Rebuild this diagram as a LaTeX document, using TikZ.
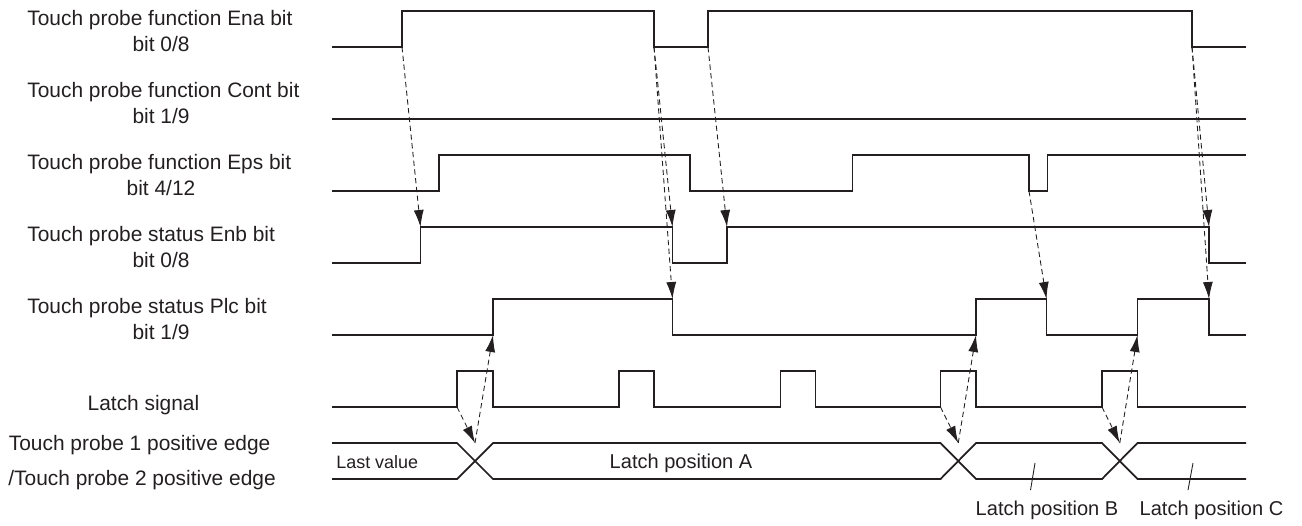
\documentclass[tikz,border=0pt]{standalone}
\usepackage{fontspec}
\setmainfont{Liberation Sans}
\usepackage{xcolor}
\usepackage{tikz}
\usetikzlibrary{arrows.meta,calc}
\definecolor{ink}{HTML}{231F20}

\begin{document}
\begin{tikzpicture}[
  font=\fontsize{11.9}{14}\selectfont,
  wave/.style={draw=ink,line width=1pt,line join=miter},
  cause/.style={-{Latex[length=3.4mm,width=2mm]},draw=ink,line width=0.5pt,
    dash pattern=on 3pt off 2pt},
  signame/.style={anchor=base west,text=ink,inner sep=0pt},
  sigbit/.style={anchor=base,text=ink,inner sep=0pt},
  buslabel/.style={anchor=base,text=ink,inner sep=0pt,
    font=\fontsize{11.4}{13}\selectfont},
  leader/.style={draw=ink,line width=0.5pt}
]
  \useasboundingbox (0,0) rectangle (26.04,-10.5);

  % signal names, one row every 1.44cm
  \node[signame] (enaName) at (0.54,-0.50) {Touch probe function Ena bit};
  \node[sigbit] (enaBit) at (3.22,-1.03) {bit 0/8};
  \node[signame] (contName) at (0.54,-1.94) {Touch probe function Cont bit};
  \node[sigbit] (contBit) at (3.22,-2.47) {bit 1/9};
  \node[signame] (epsName) at (0.54,-3.38) {Touch probe function Eps bit};
  \node[sigbit] (epsBit) at (3.22,-3.91) {bit 4/12};
  \node[signame] (enbName) at (0.54,-4.82) {Touch probe status Enb bit};
  \node[sigbit] (enbBit) at (3.22,-5.35) {bit 0/8};
  \node[signame] (plcName) at (0.54,-6.26) {Touch probe status Plc bit};
  \node[sigbit] (plcBit) at (3.22,-6.79) {bit 1/9};
  \node[sigbit] (latchName) at (2.87,-8.21) {Latch signal};
  \node[signame] (tpOne) at (0.17,-9.01) {Touch probe 1 positive edge};
  \node[signame] (tpTwo) at (0.16,-9.70) {/Touch probe 2 positive edge};

  % waveforms
  \draw[wave] (6.64,-0.94) -| (8.04,-0.22) -| (13.08,-0.94) -| (14.16,-0.22)
    -| (23.84,-0.94) -- (24.92,-0.94);
  \draw[wave] (6.64,-2.38) -- (24.92,-2.38);
  \draw[wave] (6.64,-3.82) -| (8.78,-3.10) -| (13.80,-3.82) -| (17.05,-3.10)
    -| (20.58,-3.82) -| (20.95,-3.10) -- (24.92,-3.10);
  \draw[wave] (6.64,-5.26) -| (8.41,-4.54) -| (13.45,-5.26) -| (14.54,-4.54)
    -| (24.18,-5.26) -- (24.92,-5.26);
  \draw[wave] (6.64,-6.70) -| (9.86,-5.98) -| (13.45,-6.70) -| (19.52,-5.98)
    -| (20.93,-6.70) -| (22.75,-5.98) -| (24.18,-6.70) -- (24.92,-6.70);
  \draw[wave] (6.64,-8.14) -| (9.14,-7.42) -| (9.86,-8.14) -| (12.38,-7.42)
    -| (13.08,-8.14) -| (15.61,-7.42) -| (16.31,-8.14) -| (18.81,-7.42)
    -| (19.52,-8.14) -| (22.04,-7.42) -| (22.75,-8.14) -- (24.92,-8.14);

  % latched position bus
  \draw[wave] (6.64,-8.86) -- (9.14,-8.86) -- (9.86,-9.58) -- (18.81,-9.58)
    -- (19.52,-8.86) -- (22.04,-8.86) -- (22.75,-9.58) -- (24.92,-9.58);
  \draw[wave] (6.64,-9.58) -- (9.14,-9.58) -- (9.86,-8.86) -- (18.81,-8.86)
    -- (19.52,-9.58) -- (22.04,-9.58) -- (22.75,-8.86) -- (24.92,-8.86);
  \node[buslabel,anchor=base west,font=\fontsize{10.2}{12}\selectfont] (lastVal)
    at (6.72,-9.36) {Last value};
  \node[buslabel] (posA) at (13.62,-9.36) {Latch position A};
  \node[buslabel] (posB) at (20.94,-10.30) {Latch position B};
  \node[buslabel] (posC) at (24.23,-10.30) {Latch position C};
  \coordinate (legB) at (20.70,-9.26);
  \coordinate (legC) at (23.86,-9.26);
  \draw[leader] (legB) -- ($(posB.north)+(-0.33,0.2)$);
  \draw[leader] (legC) -- ($(posC.north)+(-0.47,0.2)$);

  % edges that cause other edges
  \coordinate (enaUp1) at (8.04,-0.94);
  \coordinate (enaDn1) at (13.08,-0.94);
  \coordinate (enaUp2) at (14.16,-0.94);
  \coordinate (enaDn2) at (23.84,-0.94);
  \coordinate (epsDn) at (20.58,-3.82);
  \coordinate (enbUp1) at (8.41,-4.54);
  \coordinate (enbDn1) at (13.45,-4.54);
  \coordinate (enbUp2) at (14.54,-4.54);
  \coordinate (enbDn2) at (24.18,-4.54);
  \coordinate (plcDn1) at (13.45,-5.98);
  \coordinate (plcDn2) at (20.93,-5.98);
  \coordinate (plcDn3) at (24.18,-5.98);
  \coordinate (latA) at (9.14,-8.14);
  \coordinate (latB) at (18.81,-8.14);
  \coordinate (latC) at (22.04,-8.14);
  \coordinate (crossA) at (9.50,-8.86);
  \coordinate (crossB) at (19.165,-8.86);
  \coordinate (crossC) at (22.395,-8.86);
  \coordinate (plcUpA) at (9.86,-6.70);
  \coordinate (plcUpB) at (19.52,-6.70);
  \coordinate (plcUpC) at (22.75,-6.70);

  \draw[cause] (enaUp1) -- (enbUp1);
  \draw[cause] (enaDn1) -- (enbDn1);
  \draw[cause] (enaDn1) -- (plcDn1);
  \draw[cause] (enaUp2) -- (enbUp2);
  \draw[cause] (enaDn2) -- (enbDn2);
  \draw[cause] (enaDn2) -- (plcDn3);
  \draw[cause] (epsDn) -- (plcDn2);
  \foreach \p in {A,B,C} {
    \draw[cause] (lat\p) -- (cross\p);
    \draw[cause] (cross\p) -- (plcUp\p);
  }
\end{tikzpicture}
\end{document}
